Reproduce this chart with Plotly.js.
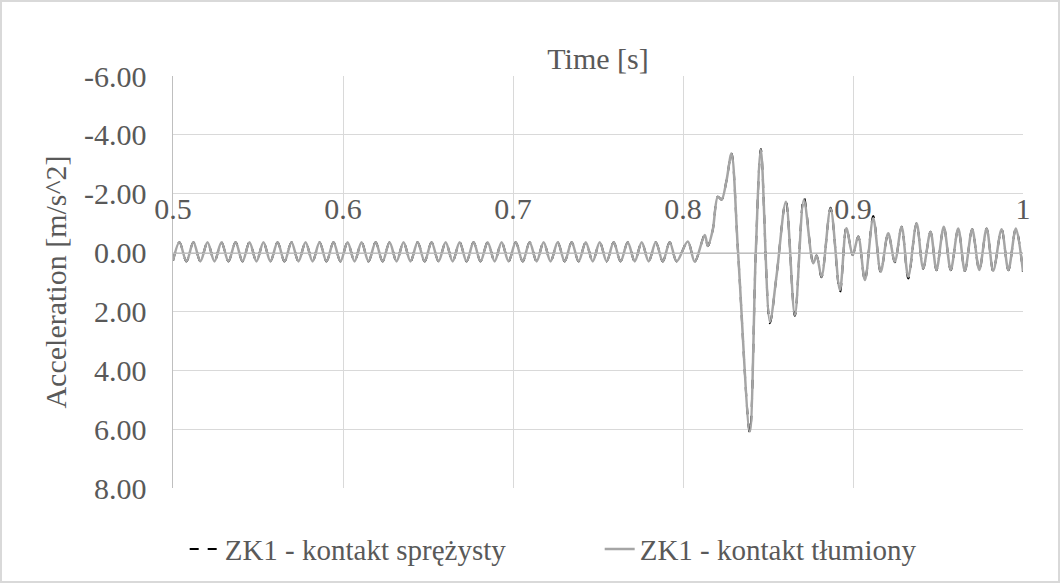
<!DOCTYPE html>
<html><head><meta charset="utf-8">
<script src="https://cdn.plot.ly/plotly-3.0.1.min.js"></script>
<style>html,body{margin:0;padding:0;background:#fff}#chart{width:1060px;height:583px;box-sizing:border-box;border:2px solid #d9d9d9}</style>
</head><body><div id="chart"></div><script>
const timeS = [
0.5000, 0.5038, 0.5079, 0.5120, 0.5161, 0.5203, 0.5244, 0.5285, 0.5326, 0.5368, 0.5409, 0.5450, 0.5491,
0.5532, 0.5573, 0.5615, 0.5656, 0.5697, 0.5738, 0.5780, 0.5821, 0.5862, 0.5903, 0.5944, 0.5985, 0.6027,
0.6068, 0.6109, 0.6150, 0.6192, 0.6233, 0.6274, 0.6315, 0.6356, 0.6397, 0.6439, 0.6480, 0.6521, 0.6562,
0.6604, 0.6645, 0.6686, 0.6727, 0.6768, 0.6809, 0.6851, 0.6892, 0.6933, 0.6974, 0.7016, 0.7057, 0.7098,
0.7139, 0.7180, 0.7221, 0.7263, 0.7304, 0.7345, 0.7386, 0.7428, 0.7469, 0.7510, 0.7551, 0.7592, 0.7633,
0.7675, 0.7716, 0.7757, 0.7798, 0.7840, 0.7881, 0.7922, 0.7963,
0.8028, 0.8069, 0.8128, 0.8146, 0.8175, 0.8205, 0.8227, 0.8256, 0.8285, 0.8324, 0.8393, 0.8428, 0.8458,
0.8511, 0.8550, 0.8605, 0.8658, 0.8711, 0.8766, 0.8786, 0.8815, 0.8868, 0.8923, 0.8961, 0.8998, 0.9031,
0.9070, 0.9119, 0.9163, 0.9207, 0.9246, 0.9286, 0.9325, 0.9374, 0.9413, 0.9456, 0.9491, 0.9534, 0.9575,
0.9619, 0.9658, 0.9701, 0.9743, 0.9786, 0.9825, 0.9874, 0.9914, 0.9958, 1.0000
];
const accTlumiony = [
0.28, -0.35, 0.30, -0.35, 0.30, -0.35, 0.30, -0.35, 0.30, -0.35, 0.30, -0.35, 0.30,
-0.35, 0.30, -0.35, 0.30, -0.35, 0.30, -0.35, 0.30, -0.35, 0.30, -0.35, 0.30, -0.35,
0.30, -0.35, 0.30, -0.35, 0.30, -0.35, 0.30, -0.35, 0.30, -0.35, 0.30, -0.35, 0.30,
-0.35, 0.30, -0.35, 0.30, -0.35, 0.30, -0.35, 0.30, -0.35, 0.30, -0.35, 0.30, -0.35,
0.30, -0.35, 0.30, -0.35, 0.30, -0.35, 0.30, -0.35, 0.30, -0.35, 0.30, -0.35, 0.30,
-0.35, 0.30, -0.35, 0.30, -0.35, 0.30, -0.35, 0.30,
-0.38, 0.31, -0.60, -0.22, -0.77, -1.90, -1.80, -2.45, -3.37, 0.00, 6.08, 0.00, -3.50,
2.35, 0.80, -1.73, 2.12, -1.79, 0.36, 0.10, 0.82, -1.50, 1.27, -0.83, 0.08, -0.55,
0.93, -1.17, 0.65, -0.66, 0.31, -0.88, 0.82, -1.00, 0.53, -0.71, 0.59, -0.88, 0.59,
-0.82, 0.62, -0.79, 0.59, -0.82, 0.62, -0.79, 0.59, -0.82, 0.65
];
const accSprezysty = [
0.28, -0.35, 0.30, -0.35, 0.30, -0.35, 0.30, -0.35, 0.30, -0.35, 0.30, -0.35, 0.30,
-0.35, 0.30, -0.35, 0.30, -0.35, 0.30, -0.35, 0.30, -0.35, 0.30, -0.35, 0.30, -0.35,
0.30, -0.35, 0.30, -0.35, 0.30, -0.35, 0.30, -0.35, 0.30, -0.35, 0.30, -0.35, 0.30,
-0.35, 0.30, -0.35, 0.30, -0.35, 0.30, -0.35, 0.30, -0.35, 0.30, -0.35, 0.30, -0.35,
0.30, -0.35, 0.30, -0.35, 0.30, -0.35, 0.30, -0.35, 0.30, -0.35, 0.30, -0.35, 0.30,
-0.35, 0.30, -0.35, 0.30, -0.35, 0.30, -0.35, 0.30,
-0.38, 0.31, -0.60, -0.22, -0.77, -1.90, -1.80, -2.45, -3.37, 0.00, 6.12, 0.00, -3.52,
2.40, 0.80, -1.75, 2.15, -1.88, 0.36, 0.10, 0.84, -1.52, 1.35, -0.85, 0.08, -0.55,
0.95, -1.24, 0.67, -0.66, 0.33, -0.88, 0.88, -1.00, 0.55, -0.71, 0.60, -0.88, 0.60,
-0.82, 0.63, -0.79, 0.60, -0.82, 0.63, -0.79, 0.60, -0.82, 0.66
];
const seriesNames = ['ZK1 - kontakt sprężysty', 'ZK1 - kontakt tłumiony'];
const xTickVals = [0.5, 0.6, 0.7, 0.8, 0.9, 1.0];
const xTickText = ['0.5', '0.6', '0.7', '0.8', '0.9', '1'];
const yTickVals = [-6, -4, -2, 0, 2, 4, 6, 8];
const yTickText = ['-6.00', '-4.00', '-2.00', '0.00', '2.00', '4.00', '6.00', '8.00'];

const FONT = "'Liberation Serif', 'Times New Roman', Times, serif";
const TXT = '#595959';

const traces = [
  {x: timeS, y: accSprezysty, name: seriesNames[0], type: 'scatter', mode: 'lines',
   line: {color: '#000000', width: 2, dash: 'dash', shape: 'spline', smoothing: 0.9}},
  {x: timeS, y: accTlumiony, name: seriesNames[1], type: 'scatter', mode: 'lines',
   line: {color: '#a5a5a5', width: 2.5, shape: 'spline', smoothing: 0.9}}
];

const layout = {
  width: 1056, height: 579,
  margin: {l: 171, r: 35, t: 74, b: 93},
  paper_bgcolor: '#ffffff', plot_bgcolor: '#ffffff',
  font: {family: FONT, color: TXT, size: 30},
  showlegend: true,
  title: {text: 'Time [s]', font: {family: FONT, size: 30, color: TXT},
          x: 0.5, xref: 'paper', y: 0.903, yref: 'container', yanchor: 'middle'},
  xaxis: {
    range: [0.5, 1.0], tickvals: xTickVals, ticktext: xTickText,
    side: 'top', anchor: 'free', position: 8 / 14,
    showgrid: true, gridcolor: '#d9d9d9', gridwidth: 1,
    showline: true, linecolor: '#bfbfbf', linewidth: 1.5,
    zeroline: false, ticks: '', ticklabelstandoff: 22,
    tickfont: {family: FONT, size: 30, color: TXT}
  },
  yaxis: {
    range: [8, -6], tickvals: yTickVals, ticktext: yTickText,
    showgrid: true, gridcolor: '#d9d9d9', gridwidth: 1,
    showline: true, linecolor: '#bfbfbf', linewidth: 1.5,
    zeroline: false, ticks: '', ticklabelstandoff: 19,
    tickfont: {family: FONT, size: 30, color: TXT},
    title: {text: 'Acceleration [m/s^2]', font: {family: FONT, size: 30, color: TXT}, standoff: 8}
  },
  legend: {
    orientation: 'h', x: 0.173, xanchor: 'left', xref: 'container',
    y: 0.055, yanchor: 'middle', yref: 'container',
    font: {family: FONT, size: 29, color: TXT},
    entrywidth: 370, entrywidthmode: 'pixels',
    bgcolor: 'rgba(0,0,0,0)'
  },
  hovermode: false
};

Plotly.newPlot('chart', traces, layout, {staticPlot: true, displayModeBar: false});
</script></body></html>
